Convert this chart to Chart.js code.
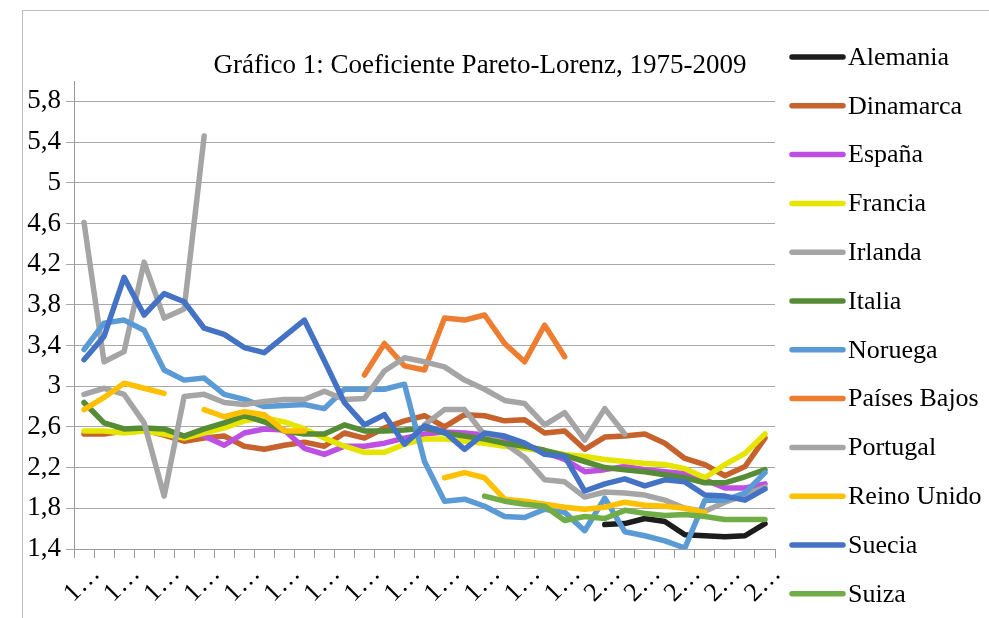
<!DOCTYPE html>
<html>
<head>
<meta charset="utf-8">
<script src="https://cdn.jsdelivr.net/npm/chart.js"></script>
<style>
html,body{margin:0;padding:0;background:#fff;}
#wrap{width:989px;height:618px;position:relative;}
</style>
</head>
<body>
<div id="wrap"><canvas id="c" width="989" height="618"></canvas></div>
<script>
const titleText = 'Gráfico 1: Coeficiente Pareto-Lorenz, 1975-2009';
const years = ['1975','1976','1977','1978','1979','1980','1981','1982','1983','1984','1985','1986','1987','1988','1989','1990','1991','1992','1993','1994','1995','1996','1997','1998','1999','2000','2001','2002','2003','2004','2005','2006','2007','2008','2009'];
const yTicks = [1.4,1.8,2.2,2.6,3,3.4,3.8,4.2,4.6,5,5.4,5.8];
const _ = null;

const alemania    = [_,_,_,_,_,_,_,_,_,_,_,_,_,_,_,_,_,_,_,_,_,_,_,_,_,_,1.64,1.65,1.70,1.67,1.54,1.53,1.52,1.53,1.65];
const dinamarca   = [2.53,2.53,2.56,2.57,2.52,2.46,2.49,2.51,2.41,2.38,2.42,2.45,2.41,2.54,2.49,2.59,2.66,2.71,2.60,2.72,2.71,2.66,2.67,2.54,2.56,2.38,2.50,2.51,2.53,2.44,2.29,2.23,2.12,2.21,2.49];
const espana      = [_,_,_,_,_,_,2.51,2.42,2.54,2.58,2.57,2.39,2.33,2.41,2.41,2.44,2.49,2.53,2.55,2.54,2.52,2.49,2.43,2.35,2.28,2.16,2.18,2.21,2.18,2.16,2.14,2.08,2.00,2.00,2.04];
const francia     = [2.56,2.56,2.54,2.56,2.53,2.49,2.54,2.59,2.66,2.69,2.65,2.58,2.49,2.41,2.35,2.35,2.43,2.48,2.48,2.46,2.44,2.41,2.39,2.36,2.33,2.31,2.28,2.26,2.24,2.23,2.19,2.10,2.23,2.34,2.53];
const irlanda     = [4.61,3.24,3.34,4.22,3.67,3.76,5.46,_,_,_,_,_,_,_,_,_,_,2.62,2.77,2.77,2.52,2.44,2.30,2.08,2.06,1.91,1.96,1.95,1.93,1.88,1.80,1.77,1.86,1.93,2.01];
const italia      = [2.84,2.64,2.58,2.59,2.58,2.51,2.58,2.64,2.71,2.65,2.56,2.53,2.53,2.62,2.56,2.56,2.57,2.59,2.54,2.51,2.48,2.44,2.41,2.37,2.32,2.26,2.20,2.18,2.16,2.13,2.10,2.05,2.05,2.11,2.18];
const noruega     = [3.36,3.62,3.65,3.55,3.16,3.06,3.08,2.92,2.87,2.80,2.81,2.82,2.78,2.97,2.97,2.97,3.02,2.26,1.87,1.89,1.82,1.72,1.71,1.79,1.76,1.58,1.90,1.57,1.53,1.48,1.41,1.88,1.88,1.95,2.15];
const paisesBajos = [_,_,_,_,_,_,_,_,_,_,_,_,_,_,3.11,3.42,3.20,3.16,3.67,3.65,3.70,3.42,3.24,3.60,3.29,_,_,_,_,_,_,_,_,_,_];
const portugal    = [2.92,2.98,2.92,2.64,1.92,2.90,2.92,2.84,2.82,2.85,2.87,2.87,2.95,2.87,2.88,3.15,3.28,3.24,3.19,3.06,2.97,2.86,2.83,2.62,2.74,2.47,2.78,2.53,_,_,_,_,_,_,_];
const reinoUnido  = [2.77,2.89,3.03,2.98,2.93,_,2.77,2.70,2.75,2.72,2.56,2.56,_,_,_,_,_,_,2.10,2.15,2.10,1.89,1.87,1.84,1.81,1.79,1.81,1.86,1.83,1.82,1.80,1.76,_,_,_];
const suecia      = [3.26,3.49,4.07,3.70,3.91,3.83,3.57,3.51,3.38,3.33,3.49,3.65,3.25,2.84,2.62,2.72,2.43,2.61,2.55,2.38,2.54,2.51,2.44,2.33,2.31,1.97,2.04,2.09,2.02,2.08,2.06,1.93,1.92,1.88,1.99];
const suiza       = [_,_,_,_,_,_,_,_,_,_,_,_,_,_,_,_,_,_,_,_,1.92,1.87,1.84,1.82,1.68,1.72,1.70,1.78,1.75,1.73,1.74,1.72,1.69,1.69,1.69];

const seriesNames  = ['Alemania','Dinamarca','España','Francia','Irlanda','Italia','Noruega','Países Bajos','Portugal','Reino Unido','Suecia','Suiza'];
const seriesValues = [alemania,dinamarca,espana,francia,irlanda,italia,noruega,paisesBajos,portugal,reinoUnido,suecia,suiza];
const seriesColors = ['#1c1c1c','#C6622C','#BE4FE3','#E5E500','#A5A5A5','#578C36','#5B9BD5','#ED7D31','#A5A5A5','#FFC000','#4472C4','#70AD47'];

const FONT = '"Liberation Serif", "Times New Roman", serif';

const decor = {
  id: 'decor',
  beforeDraw(chart) {
    const ctx = chart.ctx;
    ctx.save();
    ctx.fillStyle = '#fff';
    ctx.fillRect(0, 0, chart.width, chart.height);
    ctx.strokeStyle = '#bdbdbd';
    ctx.lineWidth = 1;
    ctx.strokeRect(22.5, 10.5, 1000, 700);
    ctx.restore();
  },
  afterDraw(chart) {
    const ctx = chart.ctx;
    ctx.save();
    ctx.font = '27px ' + FONT;
    ctx.fillStyle = '#000';
    ctx.textBaseline = 'middle';
    ctx.textAlign = 'center';
    ctx.fillText(titleText, 480, 66);
    ctx.font = '26px ' + FONT;
    ctx.textAlign = 'left';
    chart.data.datasets.forEach((ds, k) => {
      const y = 57 + k * 48.8;
      ctx.strokeStyle = ds.borderColor;
      ctx.lineWidth = 5.5;
      ctx.lineCap = 'round';
      ctx.beginPath();
      ctx.moveTo(792, y);
      ctx.lineTo(843, y);
      ctx.stroke();
      ctx.fillText(ds.label, 848, y + 1);
    });
    ctx.restore();
  }
};

new Chart(document.getElementById('c'), {
  type: 'line',
  data: {
    labels: years,
    datasets: seriesNames.map((name, k) => ({
      label: name,
      data: seriesValues[k],
      borderColor: seriesColors[k],
      backgroundColor: seriesColors[k],
      borderWidth: 5.5,
      pointRadius: 0,
      tension: 0,
      fill: false,
      spanGaps: false,
      borderJoinStyle: 'round',
      borderCapStyle: 'round',
      order: seriesNames.length - k
    }))
  },
  options: {
    responsive: false,
    animation: false,
    events: [],
    layout: { padding: { top: 81, right: 214, left: 0, bottom: 0 } },
    plugins: {
      legend: { display: false },
      title: { display: false },
      tooltip: { enabled: false }
    },
    scales: {
      x: {
        offset: true,
        grid: { offset: true, drawOnChartArea: false, drawTicks: true, tickLength: 9, color: '#9a9a9a', lineWidth: 1 },
        border: { color: '#9a9a9a', width: 1 },
        ticks: {
          autoSkip: false, minRotation: 45, maxRotation: 45, padding: 1, labelOffset: 12, color: '#000',
          font: { family: FONT, size: 26 },
          callback: function(v, i) { return i % 2 === 0 ? years[i].charAt(0) + '…' : ''; }
        },
        afterFit(s) { s.height = 69; }
      },
      y: {
        min: 1.4, max: 6,
        afterBuildTicks(s) { s.ticks = yTicks.map(v => ({ value: v })); },
        grid: { color: '#a8a8a8', lineWidth: 1, tickLength: 8 },
        border: { color: '#9a9a9a', width: 1 },
        ticks: {
          color: '#000', padding: 5,
          font: { family: FONT, size: 27 },
          callback: function(v) { return String(v).replace('.', ','); }
        },
        afterFit(s) { s.width = 74; }
      }
    }
  },
  plugins: [decor]
});
</script>
</body>
</html>
